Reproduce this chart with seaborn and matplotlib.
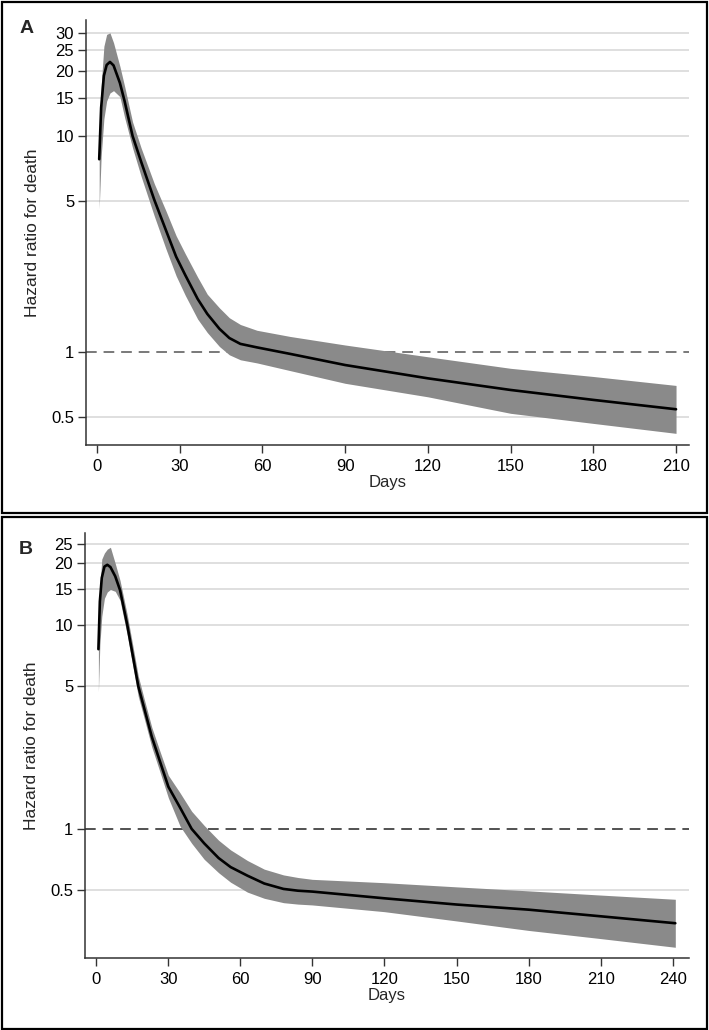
import matplotlib
matplotlib.use('Agg')
import matplotlib.pyplot as plt
import seaborn as sns
import pandas as pd
from matplotlib.patches import Rectangle

# Painel A
days_a = [0.8, 1.5, 2.5, 3.5, 4.7, 6, 8.3, 10, 12.9, 16, 20.8, 25, 28.7, 32, 36.5,
          40, 44.4, 48, 52, 58, 70, 90, 120, 150, 180, 210]
hr_a = [7.8, 13.5, 19.0, 21.3, 22.0, 21.2, 17.6, 14.5, 10.0, 7.6, 5.05, 3.66, 2.76,
        2.27, 1.76, 1.50, 1.28, 1.16, 1.09, 1.05, 0.98, 0.87, 0.755, 0.667, 0.60, 0.543]
hi_a = [8.5, 17.0, 26.0, 29.5, 30.0, 27.0, 21.0, 17.0, 11.6, 8.8, 6.0, 4.5, 3.45,
        2.85, 2.22, 1.85, 1.60, 1.44, 1.34, 1.26, 1.18, 1.077, 0.95, 0.84, 0.77, 0.70]
lo_a = [4.6, 8.0, 12.0, 14.5, 15.8, 16.2, 15.2, 12.2, 8.8, 6.5, 4.25, 3.0, 2.25,
        1.83, 1.42, 1.23, 1.06, 0.97, 0.92, 0.89, 0.82, 0.716, 0.62, 0.52, 0.467, 0.42]

# Painel B
days_b = [1.0, 1.6, 2.4, 3.5, 4.7, 6, 8, 10, 13, 15.5, 17.6, 20, 23.2, 26.5, 30.1,
          35, 39.8, 45, 51, 56, 63, 70, 78, 84, 90, 120, 150, 180, 210, 241]
hr_b = [7.6, 13.0, 17.0, 19.3, 19.7, 19.2, 17.3, 14.8, 10.0, 6.86, 5.0, 3.92, 2.83,
        2.16, 1.61, 1.27, 1.0, 0.85, 0.72, 0.65, 0.59, 0.54, 0.508, 0.498, 0.493,
        0.457, 0.426, 0.402, 0.373, 0.345]
hi_b = [8.8, 15.0, 21.0, 22.5, 23.5, 24.0, 20.0, 16.5, 11.2, 7.7, 5.6, 4.35, 3.15,
        2.42, 1.83, 1.50, 1.22, 1.04, 0.88, 0.789, 0.70, 0.635, 0.595, 0.578, 0.566,
        0.545, 0.52, 0.497, 0.474, 0.452]
lo_b = [4.7, 8.0, 11.0, 13.5, 14.5, 14.9, 14.6, 13.2, 8.9, 6.1, 4.45, 3.5, 2.52,
        1.92, 1.42, 1.03, 0.85, 0.71, 0.61, 0.548, 0.49, 0.457, 0.435, 0.428, 0.424,
        0.393, 0.354, 0.318, 0.29, 0.263]

xticks_a = [0, 30, 60, 90, 120, 150, 180, 210]
xticks_b = [0, 30, 60, 90, 120, 150, 180, 210, 240]
yticks_a = [0.5, 1, 5, 10, 15, 20, 25, 30]
yticks_b = [0.5, 1, 5, 10, 15, 20, 25]
ytick_labels_a = ['0.5', '1', '5', '10', '15', '20', '25', '30']
ytick_labels_b = ['0.5', '1', '5', '10', '15', '20', '25']

sns.set_style('white')
plt.rcParams['font.family'] = ['Liberation Sans', 'DejaVu Sans']

W, H = 709, 1030
fig = plt.figure(figsize=(W / 100, H / 100), dpi=100)


def painel(rect, days, hr, lo, hi, xticks, yticks, ylabels, xlim, ylim, letra, ly, dash_cor):
    ax = fig.add_axes(rect)
    ax.set_yscale('log')
    for v in yticks:
        if v != 1:
            ax.axhline(v, color='#d6d6d6', lw=1.1, zorder=0)
    ax.axhline(1, color=dash_cor, lw=1.1, ls=(0, (7, 4.5)), zorder=1)
    ax.fill_between(days, lo, hi, color='#8a8a8a', lw=0, zorder=2)
    df = pd.DataFrame({'dias': days, 'hr': hr})
    sns.lineplot(data=df, x='dias', y='hr', color='black', lw=1.9, ax=ax, zorder=3)
    ax.set_xlim(*xlim)
    ax.set_ylim(*ylim)
    ax.set_xticks(xticks)
    ax.set_xticklabels([str(t) for t in xticks])
    ax.set_yticks(yticks)
    ax.set_yticklabels(ylabels)
    ax.minorticks_off()
    ax.tick_params(axis='both', direction='out', length=6, width=1, color='#333333',
                   labelsize=12, labelcolor='black', bottom=True, left=True)
    ax.tick_params(axis='x', pad=4)
    ax.tick_params(axis='y', pad=2.5)
    for s in ['top', 'right']:
        ax.spines[s].set_visible(False)
    for s in ['left', 'bottom']:
        ax.spines[s].set_color('#333333')
        ax.spines[s].set_linewidth(1.1)
    ax.set_xlabel('Days', fontsize=12, labelpad=1)
    ax.set_ylabel('Hazard ratio for death', fontsize=12.5)
    ax.yaxis.set_label_coords(-0.0887, 0.5)
    ax.yaxis.label.set_verticalalignment('center')
    ax.text(-0.098, ly, letra, transform=ax.transAxes, fontsize=14,
            fontweight='bold', ha='center', va='center')
    return ax


painel([86 / W, 585 / H, 603 / W, 425 / H], days_a, hr_a, lo_a, hi_a,
       xticks_a, yticks_a, ytick_labels_a, (-3.99, 214.7), (0.371, 34.4), 'A', 0.981, '#555555')
painel([85 / W, 72 / H, 604 / W, 425 / H], days_b, hr_b, lo_b, hi_b,
       xticks_b, yticks_b, ytick_labels_b, (-4.58, 246.7), (0.233, 28.2), 'B', 0.962, '#222222')

# molduras dos paineis
fig.patches.append(Rectangle((1.5 / W, 1 - 513 / H), 705.5 / W, 511.5 / H,
                             transform=fig.transFigure, fill=False, ec='black', lw=1.6))
fig.patches.append(Rectangle((1.5 / W, 1.5 / H), 705.5 / W, 511.5 / H,
                             transform=fig.transFigure, fill=False, ec='black', lw=1.6))

fig.savefig('out.png', dpi=100)
